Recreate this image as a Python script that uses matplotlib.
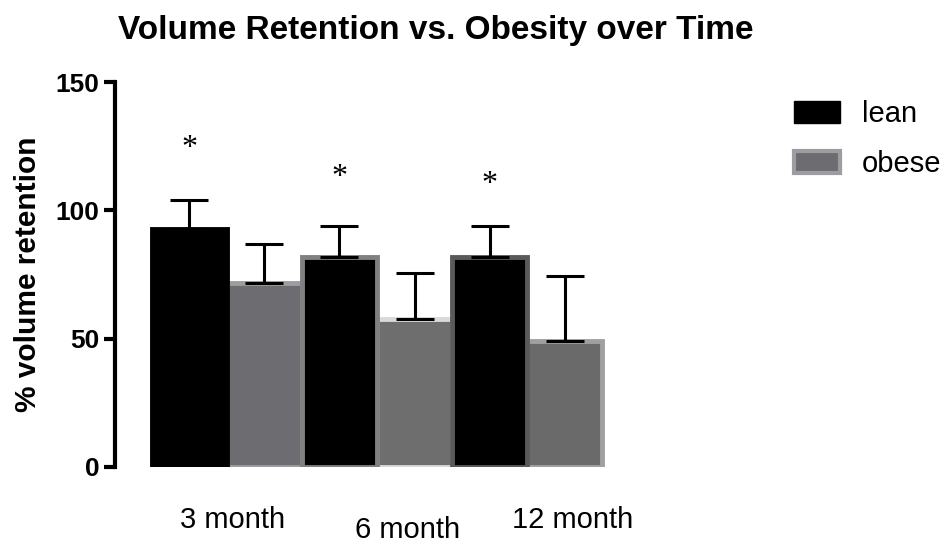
import numpy as np
import matplotlib.pyplot as plt
from matplotlib.patches import Patch

plt.rcParams['font.family'] = ['Liberation Sans', 'DejaVu Sans']

# Daten
gruppen = ['3 month', '6 month', '12 month']
lean = [92.7, 82.0, 82.0]
lean_err = [11.5, 12.0, 12.0]
obese = [71.7, 57.7, 49.0]
obese_err = [15.3, 18.0, 25.5]
stern_y = [124, 113, 110]

lean_kanten = ['#000000', '#808080', '#5a5a5a']
obese_farben = ['#6d6c71', '#6e6e6e', '#6a6a6a']
obese_kanten = ['#9d9ca1', '#d9d9d9', '#a0a0a0']

fig = plt.figure(figsize=(9.5, 5.46), dpi=100)
ax = fig.add_axes([0.121, 0.1447, 0.532, 0.705])

x_lean = np.arange(len(gruppen)) * 2 + 0.5
x_obese = x_lean + 1

ax.bar(x_lean, lean, width=1, color='black', edgecolor=lean_kanten, linewidth=3.5, zorder=2)
ax.bar(x_obese, obese, width=1, color=obese_farben, edgecolor=obese_kanten, linewidth=3.5, zorder=1)

err_kw = dict(fmt='none', ecolor='black', elinewidth=2.2, capsize=14, capthick=2.2, zorder=3)
ax.errorbar(x_lean, lean, yerr=[np.zeros(3), lean_err], **err_kw)
ax.errorbar(x_obese, obese, yerr=[np.zeros(3), obese_err], **err_kw)

for xs, ys in zip(x_lean, stern_y):
    ax.text(xs, ys, '*', ha='center', va='center', fontsize=23, family='Liberation Serif')

# x-Beschriftungen (nicht ganz mittig wie im Original)
label_x = [1.08, 3.41, 5.6]
label_y = [-20.5, -24.5, -20.5]
for lx, ly, g in zip(label_x, label_y, gruppen):
    ax.text(lx, ly, g, ha='center', va='center', fontsize=21, clip_on=False)

ax.set_xlim(-0.49, 6.24)
ax.set_ylim(0, 150)
ax.set_yticks([0, 50, 100, 150])
ax.set_xticks([])
for s in ['top', 'right', 'bottom']:
    ax.spines[s].set_visible(False)
ax.spines['left'].set_linewidth(3)
ax.spines['left'].set_bounds(0, 150)
ax.tick_params(axis='y', width=3, length=8, labelsize=19, pad=3)
for lbl in ax.get_yticklabels():
    lbl.set_fontweight('bold')

ax.set_ylabel('% volume retention', fontsize=21.5, fontweight='bold', labelpad=10)
fig.text(0.459, 0.945, 'Volume Retention vs. Obesity over Time', ha='center', va='center',
         fontsize=24, fontweight='bold')

handles = [Patch(facecolor='black', edgecolor='black'),
           Patch(facecolor='#6d6c71', edgecolor='#9d9ca1', linewidth=3)]
fig.legend(handles, ['lean', 'obese'], loc='upper left', bbox_to_anchor=(0.808, 0.865),
           frameon=False, fontsize=21, handlelength=1.58, handleheight=0.8,
           handletextpad=0.75, labelspacing=0.75)

fig.savefig('out.png', dpi=100)
